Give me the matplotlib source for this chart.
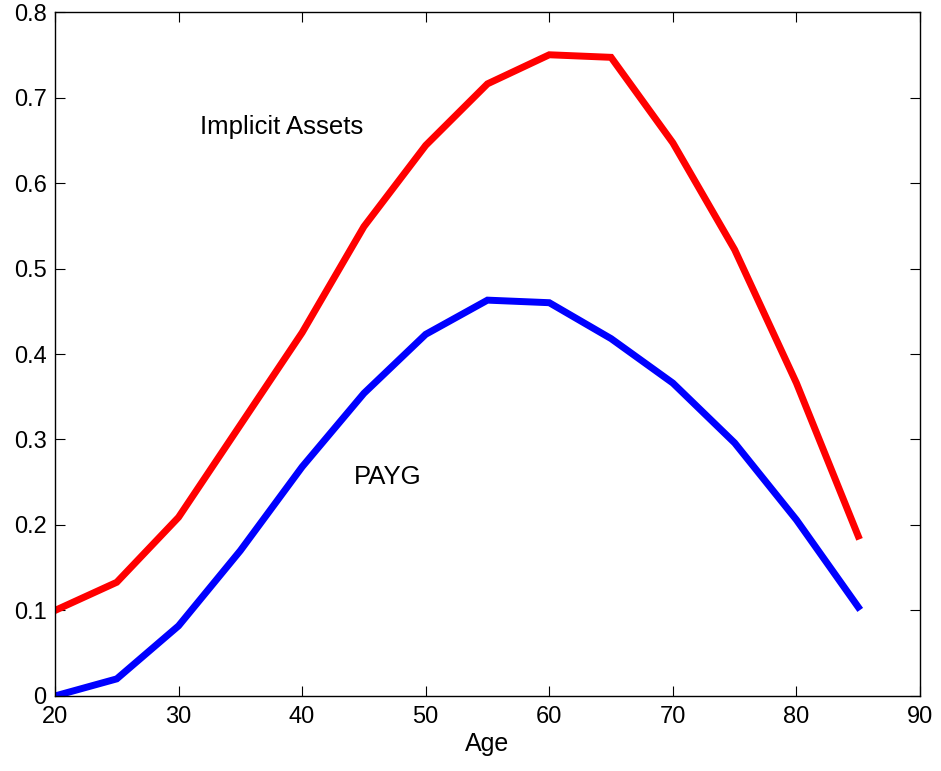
import numpy as np
import matplotlib.pyplot as plt

plt.rcParams['font.family'] = ['Liberation Sans', 'DejaVu Sans']

# ages and the two series
age = [20, 25, 30, 35, 40, 45, 50, 55, 60, 65, 70, 75, 80, 85]
implicit_assets = [0.100, 0.133, 0.209, 0.317, 0.425, 0.549, 0.644, 0.716,
                   0.750, 0.747, 0.647, 0.522, 0.366, 0.187]
payg = [0.000, 0.020, 0.082, 0.170, 0.268, 0.354, 0.423, 0.463,
        0.460, 0.418, 0.366, 0.296, 0.206, 0.104]

xticks = [20, 30, 40, 50, 60, 70, 80, 90]
yticks = [0, 0.1, 0.2, 0.3, 0.4, 0.5, 0.6, 0.7, 0.8]
yticklabels = ['0', '0.1', '0.2', '0.3', '0.4', '0.5', '0.6', '0.7', '0.8']

fig = plt.figure(figsize=(9.41, 7.71), dpi=100)
ax = fig.add_axes([0.0584, 0.0973, 0.9193, 0.8871])

ax.plot(age, implicit_assets, color='#ff0000', linewidth=5, solid_joinstyle='miter')
ax.plot(age, payg, color='#0000ff', linewidth=5, solid_joinstyle='miter')

ax.text(31.7, 0.666, 'Implicit Assets', fontsize=18.5, ha='left', va='center')
ax.text(44.2, 0.256, 'PAYG', fontsize=18.5, ha='left', va='center')

ax.set_xlim(20, 90)
ax.set_ylim(0, 0.8)
ax.set_xticks(xticks)
ax.set_yticks(yticks)
ax.set_yticklabels(yticklabels)
ax.tick_params(direction='in', top=True, right=True, length=7, width=0.8,
               labelsize=17)
ax.tick_params(axis='x', pad=7)
ax.tick_params(axis='y', pad=6)
for s in ax.spines.values():
    s.set_linewidth(1.0)
ax.set_xlabel('Age', fontsize=18, labelpad=3)

fig.savefig('out.png', dpi=100)
